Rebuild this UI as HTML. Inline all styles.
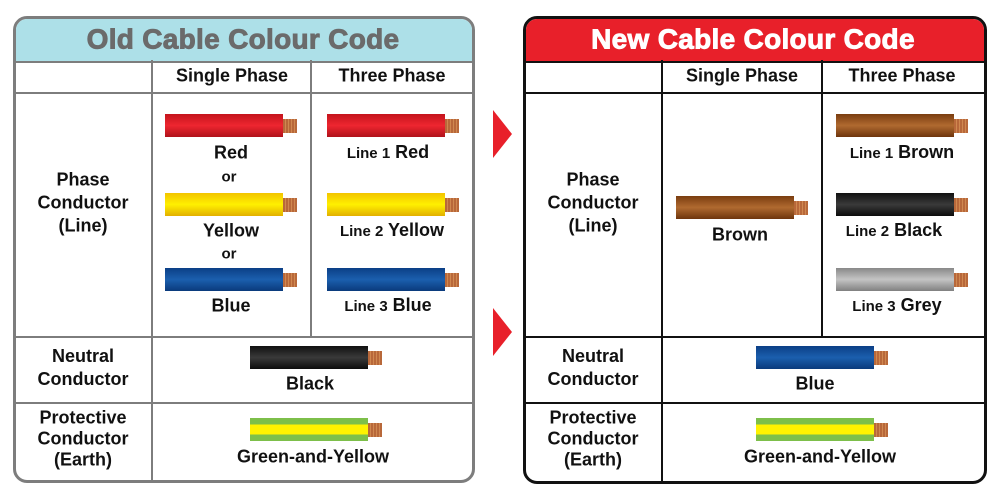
<!DOCTYPE html>
<html><head><meta charset="utf-8"><style>
body{margin:0;width:1000px;height:500px;background:#fff;position:relative;overflow:hidden;font-family:"Liberation Sans",Arial,sans-serif;}
.p{position:absolute;box-sizing:border-box;border-radius:14px;overflow:hidden;}
.l{position:absolute;}
.t{position:absolute;transform:translate(-50%,-50%);white-space:nowrap;font-weight:bold;color:#111;font-size:18px;text-align:center;line-height:23px;}
.s{font-size:15px;}
.h{font-size:28px;-webkit-text-stroke:0.9px currentColor;letter-spacing:0.3px;}
.c{position:absolute;width:118px;height:23px;}
.cu{position:absolute;width:14px;height:14px;background:repeating-linear-gradient(90deg,#b8683a 0 2px,#d08850 2px 3px);}
.red{background:linear-gradient(#c4141c,#ee2630 50%,#b0121a);}
.yel{background:linear-gradient(#f2c400,#fff000 50%,#e2b000);}
.blu{background:linear-gradient(#0b3f86,#1b5fae 50%,#0a3a7c);}
.blk{background:linear-gradient(#111,#3a3a3a 50%,#0c0c0c);}
.brn{background:linear-gradient(#7a3d10,#b06a30 50%,#6e350c);}
.gry{background:linear-gradient(#888,#c4c4c4 50%,#808080);}
.ge{background:linear-gradient(#7dbf4a 0 28%,#fff200 28% 72%,#7dbf4a 72%);}
</style></head><body>

<div class="p" style="left:13px;top:16px;width:462px;height:467px;border:3px solid #7d7d7d;">
  <div class="l" style="left:0;top:0;width:100%;height:42px;background:#ade0e8;border-bottom:2px solid #7d7d7d;"></div>
</div>
<div class="t h" style="left:243px;top:39px;color:#6b6b6b;">Old Cable Colour Code</div>
<div class="l" style="left:14px;top:92px;width:460px;height:2px;background:#7d7d7d"></div>
<div class="l" style="left:14px;top:336px;width:460px;height:2px;background:#7d7d7d"></div>
<div class="l" style="left:14px;top:402px;width:460px;height:2px;background:#7d7d7d"></div>
<div class="l" style="left:151px;top:60px;width:2px;height:421px;background:#7d7d7d"></div>
<div class="l" style="left:310px;top:60px;width:2px;height:277px;background:#7d7d7d"></div>

<div class="t" style="left:232px;top:76px;">Single Phase</div>
<div class="t" style="left:392px;top:76px;">Three Phase</div>
<div class="t" style="left:83px;top:203px;">Phase<br>Conductor<br>(Line)</div>
<div class="t" style="left:83px;top:368px;">Neutral<br>Conductor</div>
<div class="t" style="left:83px;top:439px;line-height:21px;">Protective<br>Conductor<br>(Earth)</div>

<div class="c red" style="left:165px;top:114px"></div><div class="cu" style="left:283px;top:119px"></div>
<div class="t" style="left:231px;top:153px">Red</div>
<div class="t s" style="left:229px;top:177px">or</div>
<div class="c yel" style="left:165px;top:193px"></div><div class="cu" style="left:283px;top:198px"></div>
<div class="t" style="left:231px;top:231px">Yellow</div>
<div class="t s" style="left:229px;top:254px">or</div>
<div class="c blu" style="left:165px;top:268px"></div><div class="cu" style="left:283px;top:273px"></div>
<div class="t" style="left:231px;top:306px">Blue</div>

<div class="c red" style="left:327px;top:114px"></div><div class="cu" style="left:445px;top:119px"></div>
<div class="t" style="left:388px;top:153px"><span class="s">Line 1</span> Red</div>
<div class="c yel" style="left:327px;top:193px"></div><div class="cu" style="left:445px;top:198px"></div>
<div class="t" style="left:392px;top:231px"><span class="s">Line 2</span> Yellow</div>
<div class="c blu" style="left:327px;top:268px"></div><div class="cu" style="left:445px;top:273px"></div>
<div class="t" style="left:388px;top:306px"><span class="s">Line 3</span> Blue</div>

<div class="c blk" style="left:250px;top:346px"></div><div class="cu" style="left:368px;top:351px"></div>
<div class="t" style="left:310px;top:384px">Black</div>
<div class="c ge" style="left:250px;top:418px"></div><div class="cu" style="left:368px;top:423px"></div>
<div class="t" style="left:313px;top:457px">Green-and-Yellow</div>

<svg class="l" style="left:490px;top:105px" width="26" height="260">
<polygon points="3,5 22,29 3,53" fill="#e8202a"/>
<polygon points="3,203 22,227 3,251" fill="#e8202a"/>
</svg>

<div class="p" style="left:523px;top:16px;width:464px;height:468px;border:3px solid #111;">
  <div class="l" style="left:0;top:0;width:100%;height:42px;background:#e8202a;border-bottom:2px solid #111;"></div>
</div>
<div class="t h" style="left:753px;top:39px;color:#fff;">New Cable Colour Code</div>
<div class="l" style="left:524px;top:92px;width:462px;height:2px;background:#111"></div>
<div class="l" style="left:524px;top:336px;width:462px;height:2px;background:#111"></div>
<div class="l" style="left:524px;top:402px;width:462px;height:2px;background:#111"></div>
<div class="l" style="left:661px;top:60px;width:2px;height:422px;background:#111"></div>
<div class="l" style="left:821px;top:60px;width:2px;height:277px;background:#111"></div>

<div class="t" style="left:742px;top:76px;">Single Phase</div>
<div class="t" style="left:902px;top:76px;">Three Phase</div>
<div class="t" style="left:593px;top:203px;">Phase<br>Conductor<br>(Line)</div>
<div class="t" style="left:593px;top:368px;">Neutral<br>Conductor</div>
<div class="t" style="left:593px;top:439px;line-height:21px;">Protective<br>Conductor<br>(Earth)</div>

<div class="c brn" style="left:676px;top:196px"></div><div class="cu" style="left:794px;top:201px"></div>
<div class="t" style="left:740px;top:235px">Brown</div>

<div class="c brn" style="left:836px;top:114px"></div><div class="cu" style="left:954px;top:119px"></div>
<div class="t" style="left:902px;top:153px"><span class="s">Line 1</span> Brown</div>
<div class="c blk" style="left:836px;top:193px"></div><div class="cu" style="left:954px;top:198px"></div>
<div class="t" style="left:894px;top:231px"><span class="s">Line 2</span> Black</div>
<div class="c gry" style="left:836px;top:268px"></div><div class="cu" style="left:954px;top:273px"></div>
<div class="t" style="left:897px;top:306px"><span class="s">Line 3</span> Grey</div>

<div class="c blu" style="left:756px;top:346px"></div><div class="cu" style="left:874px;top:351px"></div>
<div class="t" style="left:815px;top:384px">Blue</div>
<div class="c ge" style="left:756px;top:418px"></div><div class="cu" style="left:874px;top:423px"></div>
<div class="t" style="left:820px;top:457px">Green-and-Yellow</div>

</body></html>
